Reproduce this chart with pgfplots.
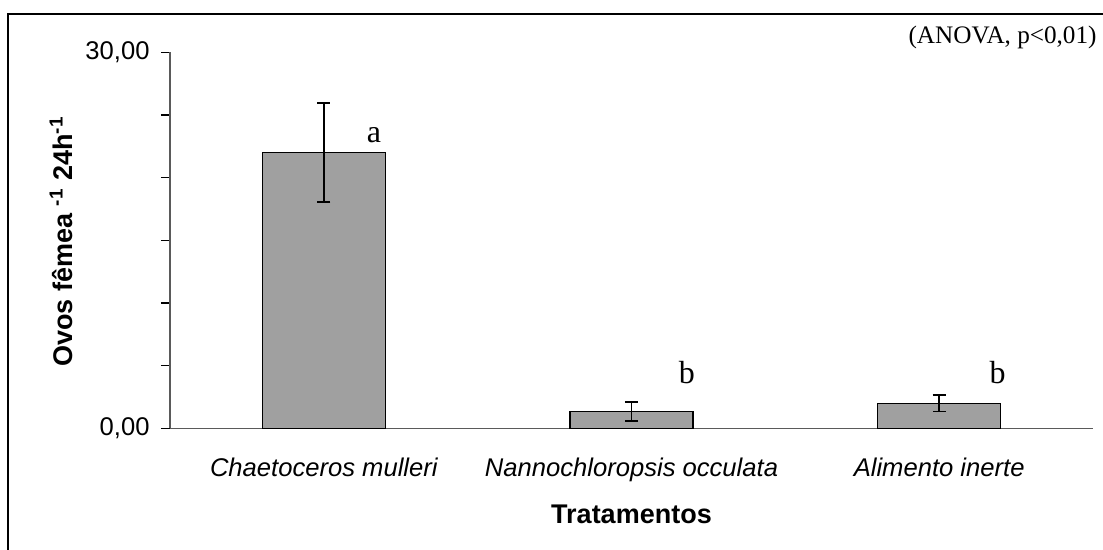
\documentclass[border=0pt]{standalone}
\usepackage{pgfplots}
\pgfplotsset{compat=1.18}
\usetikzlibrary{calc}
\usepackage{fontspec}
\setmainfont{Liberation Sans}
\newfontfamily\tnr{Liberation Serif}
\definecolor{barfill}{RGB}{160,160,160}
\definecolor{axgray}{RGB}{90,90,90}
\begin{document}
\begin{tikzpicture}
\begin{axis}[
  scale only axis,
  width=461.5pt, height=188.1pt,
  xmin=-0.5, xmax=2.5, ymin=0, ymax=30,
  axis x line=bottom, axis y line=left,
  axis line style={-, draw=axgray, line width=0.6pt},
  tick align=outside,
  major tick length=4.5pt,
  minor tick length=4.3pt,
  xtick={0,1,2},
  xticklabels={Chaetoceros mulleri, Nannochloropsis occulata, Alimento inerte},
  xtick style={draw=none},
  minor xtick={-0.5,0.5,1.5,2.5},
  xticklabel style={font=\fontsize{12.8}{14}\selectfont\itshape, anchor=base, yshift=-19.5pt},
  ytick={0,5,10,15,20,25,30},
  yticklabels={{0,00},{},{},{},{},{},{30,00}},
  yticklabel style={font=\fontsize{12.8}{14}\selectfont, xshift=-2.2pt},
  every tick/.style={black, line width=0.6pt},
  ybar, bar width=0.4,
  clip=false,
]
\addplot[fill=barfill, draw=black, line width=0.7pt,
  error bars/.cd, y dir=both, y explicit,
  error bar style={black, line width=0.8pt},
  error mark options={rotate=90, mark size=3.3pt, line width=0.8pt, black}]
  coordinates {
  (0,22.0) +- (0,3.95)
  (1,1.35) +- (0,0.77)
  (2,2.0) +- (0,0.65)
  };
\coordinate (O) at (rel axis cs:0,0);
\node[font=\tnr\fontsize{16}{18}\selectfont, inner sep=0pt] at (axis cs:0.163,23.4) {a};
\node[font=\tnr\fontsize{16}{18}\selectfont, inner sep=0pt] at (axis cs:1.18,4.43) {b};
\node[font=\tnr\fontsize{16}{18}\selectfont, inner sep=0pt] at (axis cs:2.19,4.43) {b};
\end{axis}
\useasboundingbox ($(O)+(-85pt,-60.75pt)$) rectangle ($(O)+(466.5pt,214.25pt)$);
\draw[line width=0.7pt] ($(O)+(-81pt,-70pt)$) -- ($(O)+(-81pt,207.25pt)$) -- ($(O)+(480pt,207.25pt)$);
\node[font=\tnr\fontsize{12.6}{14}\selectfont, anchor=base east, inner sep=0pt] at ($(O)+(463.5pt,192.6pt)$) {(ANOVA, p<0,01)};
\node[font=\bfseries\fontsize{13.5}{15}\selectfont, anchor=base, inner sep=0pt] at ($(O)+(230.75pt,-47.6pt)$) {Tratamentos};
\node[font=\bfseries\fontsize{13.5}{15}\selectfont, anchor=base, inner sep=0pt, rotate=90] at ($(O)+(-48.5pt,93.5pt)$) {Ovos fêmea \textsuperscript{-1} 24h\textsuperscript{-1}};
\end{tikzpicture}
\end{document}
